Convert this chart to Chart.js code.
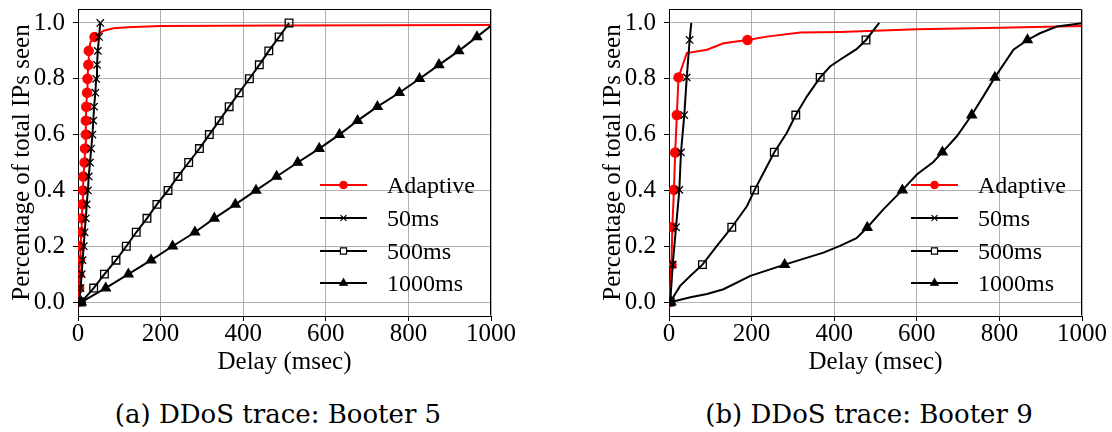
<!DOCTYPE html>
<html>
<head>
<meta charset="utf-8">
<title>Delay CDF - Booter 5 / Booter 9</title>
<script src="https://cdn.jsdelivr.net/npm/chart.js@4"></script>
<style>
  html, body { margin: 0; padding: 0; background: #fff; }
  #wrap { position: relative; width: 1112px; height: 432px; overflow: hidden; }
  canvas { position: absolute; top: 0; }
  #c1 { left: 0; }
  #c2 { left: 556px; }
  .cap {
    position: absolute; top: 401px;
    font-family: "DejaVu Serif", serif; font-size: 26px; line-height: 26px;
    white-space: nowrap; transform: translateX(-50%); color: #000;
  }
</style>
</head>
<body>
<div id="wrap">
  <canvas id="c1" width="556" height="390"></canvas>
  <canvas id="c2" width="556" height="390"></canvas>
  <div class="cap" id="cap1" style="left:278px"></div>
  <div class="cap" id="cap2" style="left:869px"></div>
</div>
<script>
// tick labels, names, captions
const xTicks = [0, 200, 400, 600, 800, 1000];
const yTicks = [0, 0.2, 0.4, 0.6, 0.8, 1.0];
const seriesNames = ["Adaptive", "50ms", "500ms", "1000ms"];
const captions = ["(a) DDoS trace: Booter 5", "(b) DDoS trace: Booter 9"];
const xTitle = "Delay (msec)";
const yTitle = "Percentage of total IPs seen";

// ---- Booter 5 ----
const b5Steps = [0, 0.05, 0.1, 0.15, 0.2, 0.25, 0.3, 0.35, 0.4, 0.45, 0.5,
  0.55, 0.6, 0.65, 0.7, 0.75, 0.8, 0.85, 0.9, 0.95, 1.0];

const b5AdaptMarkX = [0, 3, 3, 5, 6, 8, 9, 11, 12, 13, 16, 17, 19, 19, 20, 22, 23, 25, 26, 40];
const b5AdaptMarkY = b5Steps.slice(0, 20);
const b5AdaptLineX = [0, 3, 3, 5, 6, 8, 9, 11, 12, 13, 16, 17, 19, 19, 20, 22, 23, 25, 26,
  30, 40, 45, 55, 62, 86, 120, 200, 500, 1000];
const b5AdaptLineY = [0, 0.05, 0.1, 0.15, 0.2, 0.25, 0.3, 0.35, 0.4, 0.45, 0.5, 0.55, 0.6,
  0.65, 0.7, 0.75, 0.8, 0.85, 0.9, 0.93, 0.95, 0.955, 0.965, 0.972, 0.981, 0.985, 0.989, 0.991, 0.993];

const b5Ms50X = [3, 6, 9, 11, 14, 16, 19, 21, 24, 26, 29, 32, 35, 37, 39, 42, 44, 46, 48, 51, 54];
const b5Ms500X = [8, 38, 64, 92, 117, 141, 167, 191, 218, 242, 268, 294, 318, 342, 366,
  390, 415, 439, 462, 487, 511];
const b5Ms1000X = [8, 67, 122, 177, 229, 283, 330, 381, 431, 481, 532, 584, 633, 677,
  725, 778, 827, 874, 922, 966, 1000];
const b5Ms1000Y = [0, 0.05, 0.1, 0.15, 0.2, 0.25, 0.3, 0.35, 0.4, 0.45, 0.5, 0.55, 0.6,
  0.65, 0.7, 0.75, 0.8, 0.85, 0.9, 0.95, 0.99];

// ---- Booter 9 ----
const b9AdaptLineX = [0, 6, 8, 12, 15, 19, 23, 43, 92, 132, 190, 237, 318, 414, 600, 801, 1000];
const b9AdaptLineY = [0, 0.134, 0.268, 0.402, 0.536, 0.670, 0.805, 0.892, 0.904, 0.927,
  0.939, 0.951, 0.966, 0.968, 0.977, 0.983, 0.989];
const b9AdaptMarkX = [0, 6, 8, 12, 15, 19, 23, 190];
const b9AdaptMarkY = [0, 0.134, 0.268, 0.402, 0.536, 0.670, 0.805, 0.939];

const b9Ms50LineX = [3, 9, 17, 25, 29, 37, 43, 50, 54];
const b9Ms50LineY = [0, 0.134, 0.268, 0.402, 0.536, 0.670, 0.805, 0.939, 1.0];
const b9Ms50MarkX = [3, 9, 17, 25, 29, 37, 43, 50];
const b9Ms50MarkY = [0, 0.134, 0.268, 0.402, 0.536, 0.670, 0.805, 0.939];

const b9Ms500LineX = [3, 27, 52, 81, 116, 152, 189, 207, 229, 255, 285, 307, 334, 366,
  390, 414, 439, 454, 477, 509];
const b9Ms500LineY = [0, 0.058, 0.094, 0.134, 0.201, 0.268, 0.344, 0.401, 0.463, 0.537,
  0.606, 0.670, 0.737, 0.805, 0.844, 0.868, 0.892, 0.906, 0.939, 1.0];
const b9Ms500MarkX = [3, 81, 152, 207, 255, 307, 366, 477];
const b9Ms500MarkY = [0, 0.134, 0.268, 0.401, 0.537, 0.670, 0.805, 0.939];

const b9Ms1000LineX = [5, 52, 92, 132, 197, 280, 374, 414, 454, 480, 519, 565, 600, 640,
  662, 697, 733, 761, 789, 834, 868, 898, 939, 1000];
const b9Ms1000LineY = [0, 0.017, 0.029, 0.046, 0.094, 0.134, 0.177, 0.201, 0.229, 0.267,
  0.332, 0.401, 0.457, 0.502, 0.537, 0.594, 0.670, 0.737, 0.805, 0.904, 0.939, 0.963, 0.987, 0.999];
const b9Ms1000MarkX = [5, 280, 480, 565, 662, 733, 789, 868];
const b9Ms1000MarkY = [0, 0.134, 0.267, 0.401, 0.537, 0.670, 0.805, 0.939];

// look of each series (same order as seriesNames)
const seriesLook = [
  { color: "#ff0000", pointStyle: "circle", radius: 4.6, fill: "#ff0000" },
  { color: "#000000", pointStyle: "crossRot", radius: 5.2, fill: "rgba(0,0,0,0)" },
  { color: "#000000", pointStyle: "rect", radius: 5.4, fill: "rgba(0,0,0,0)" },
  { color: "#000000", pointStyle: "triangle", radius: 5.4, fill: "#000000" },
];
const lineWidth = 2;

const serif = "'Liberation Serif', 'Times New Roman', serif";
Chart.defaults.font.family = serif;
Chart.defaults.color = "#000";

function toPoints(xs, ys) {
  return xs.map((x, i) => ({ x: x, y: ys[i] }));
}

function drawMarker(ctx, style, x, y, r) {
  ctx.beginPath();
  if (style === "circle") {
    ctx.arc(x, y, r, 0, Math.PI * 2);
  } else if (style === "rect") {
    const s = r * Math.SQRT1_2;
    ctx.rect(x - s, y - s, 2 * s, 2 * s);
  } else if (style === "triangle") {
    for (let k = 0; k < 3; k++) {
      const a = (k * 2 * Math.PI) / 3;
      const px = x + Math.sin(a) * r, py = y - Math.cos(a) * r;
      if (k === 0) ctx.moveTo(px, py); else ctx.lineTo(px, py);
    }
    ctx.closePath();
  } else if (style === "crossRot") {
    const d = r * Math.SQRT1_2;
    ctx.moveTo(x - d, y - d); ctx.lineTo(x + d, y + d);
    ctx.moveTo(x + d, y - d); ctx.lineTo(x - d, y + d);
  }
  if (style !== "crossRot") ctx.fill();
  ctx.stroke();
}

// top/right spines and the frameless legend
const framePlugin = {
  id: "frameLegend",
  afterDraw(chart) {
    const { ctx, chartArea: a } = chart;
    ctx.save();
    ctx.strokeStyle = "#000";
    ctx.lineWidth = 1;
    ctx.beginPath();
    ctx.moveTo(Math.round(a.left) + 0.5, Math.round(a.top) + 0.5);
    ctx.lineTo(Math.round(a.right) - 0.5, Math.round(a.top) + 0.5);
    ctx.lineTo(Math.round(a.right) - 0.5, Math.round(a.bottom) - 0.5);
    ctx.stroke();

    const rows = [131, 98, 65, 33];
    seriesNames.forEach((name, i) => {
      const look = seriesLook[i];
      const y = a.bottom - rows[i];
      ctx.strokeStyle = look.color;
      ctx.lineWidth = lineWidth;
      ctx.beginPath();
      ctx.moveTo(a.right - 171, y);
      ctx.lineTo(a.right - 124, y);
      ctx.stroke();
      ctx.lineWidth = 1.2;
      ctx.fillStyle = look.fill === "#000000" || look.fill === "#ff0000" ? look.fill : "#ffffff";
      drawMarker(ctx, look.pointStyle, a.right - 147.5, y, look.radius * 0.8);
      ctx.fillStyle = "#000";
      ctx.font = "24px " + serif;
      ctx.textAlign = "left";
      ctx.textBaseline = "alphabetic";
      ctx.fillText(name, a.right - 104, y + 8);
    });
    ctx.restore();
  },
};

function makeDatasets(series) {
  const sets = [];
  series.forEach((s, i) => {
    const look = seriesLook[i];
    const depth = (seriesNames.length - i) * 2;
    sets.push({
      label: seriesNames[i],
      data: toPoints(s.lineX, s.lineY),
      borderColor: look.color,
      borderWidth: lineWidth,
      pointRadius: 0,
      tension: 0,
      order: depth,
    });
    sets.push({
      label: seriesNames[i] + " markers",
      data: toPoints(s.markX, s.markY),
      showLine: false,
      pointStyle: look.pointStyle,
      pointRadius: look.radius,
      pointBorderWidth: 1.3,
      pointBorderColor: look.color,
      pointBackgroundColor: look.fill,
      order: depth - 1,
    });
  });
  return sets;
}

function makeChart(canvasId, series, padLeft, padRight) {
  const tickFont = { family: serif, size: 25, lineHeight: 1.1 };
  const titleFont = { family: serif, size: 25, lineHeight: 1.2 };
  const grid = { color: "#b0b0b0", lineWidth: 1, tickLength: 5, tickColor: "#000", drawTicks: true };
  const border = { color: "#000", width: 1 };
  return new Chart(document.getElementById(canvasId), {
    type: "line",
    data: { datasets: makeDatasets(series) },
    plugins: [framePlugin],
    options: {
      responsive: false,
      animation: false,
      events: [],
      layout: { padding: { left: padLeft, right: padRight, top: 9, bottom: 0 } },
      plugins: { legend: { display: false }, tooltip: { enabled: false } },
      scales: {
        x: {
          type: "linear",
          min: 0,
          max: 1000,
          afterBuildTicks: (s) => { s.ticks = xTicks.map((v) => ({ value: v })); },
          afterFit: (s) => { s.height = 74; s.paddingLeft = 0; s.paddingRight = 0; },
          ticks: { font: tickFont, color: "#000", padding: 0, maxRotation: 0, autoSkip: false,
            callback: (v) => String(v) },
          grid: grid,
          border: border,
          title: { display: true, text: xTitle, font: titleFont, color: "#000",
            padding: { top: 0, bottom: 13 } },
        },
        y: {
          type: "linear",
          min: -0.05,
          max: 1.05,
          afterBuildTicks: (s) => { s.ticks = yTicks.map((v) => ({ value: v })); },
          afterFit: (s) => { s.width = 78; s.paddingTop = 0; s.paddingBottom = 0; },
          ticks: { font: tickFont, color: "#000", padding: 8, autoSkip: false,
            callback: (v) => Number(v).toFixed(1) },
          grid: grid,
          border: border,
          title: { display: true, text: yTitle, font: titleFont, color: "#000",
            padding: { top: 7, bottom: 0 } },
        },
      },
    },
  });
}

const booter5 = [
  { lineX: b5AdaptLineX, lineY: b5AdaptLineY, markX: b5AdaptMarkX, markY: b5AdaptMarkY },
  { lineX: b5Ms50X, lineY: b5Steps, markX: b5Ms50X, markY: b5Steps },
  { lineX: b5Ms500X, lineY: b5Steps, markX: b5Ms500X, markY: b5Steps },
  { lineX: b5Ms1000X, lineY: b5Ms1000Y, markX: b5Ms1000X.slice(0, 20), markY: b5Ms1000Y.slice(0, 20) },
];

const booter9 = [
  { lineX: b9AdaptLineX, lineY: b9AdaptLineY, markX: b9AdaptMarkX, markY: b9AdaptMarkY },
  { lineX: b9Ms50LineX, lineY: b9Ms50LineY, markX: b9Ms50MarkX, markY: b9Ms50MarkY },
  { lineX: b9Ms500LineX, lineY: b9Ms500LineY, markX: b9Ms500MarkX, markY: b9Ms500MarkY },
  { lineX: b9Ms1000LineX, lineY: b9Ms1000LineY, markX: b9Ms1000MarkX, markY: b9Ms1000MarkY },
];

makeChart("c1", booter5, 0, 65);
makeChart("c2", booter9, 35, 30);

document.getElementById("cap1").textContent = captions[0];
document.getElementById("cap2").textContent = captions[1];
</script>
</body>
</html>
